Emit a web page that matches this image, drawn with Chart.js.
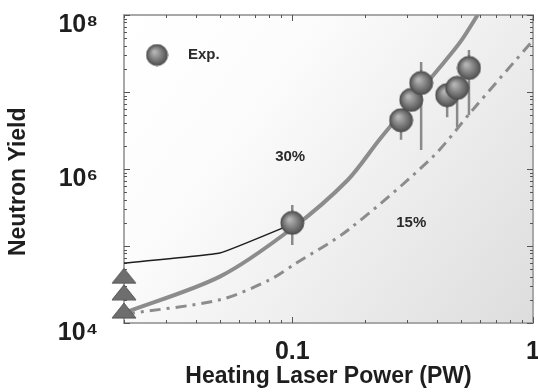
<!DOCTYPE html>
<html><head><meta charset="utf-8">
<script src="https://cdn.jsdelivr.net/npm/chart.js@4.4.1/dist/chart.umd.min.js"></script>
<style>html,body{margin:0;padding:0;background:#fff;}#wrap{width:538px;height:392px;}</style>
</head><body><div id="wrap"><canvas id="c" width="538" height="392"></canvas></div>
<script>
// ---- data ----
const expPower   = [0.1, 0.283, 0.312, 0.343, 0.44, 0.484, 0.542];
const expYield   = [2.0e5, 4.3e6, 7.9e6, 1.31e7, 9.1e6, 1.13e7, 2.05e7];
const expErrLow  = [1.03e5, 2.4e6, 7.9e6, 1.77e6, 4.7e6, 3.5e6, 5.0e6];
const expErrHigh = [3.4e5, 5.5e6, 7.9e6, 2.45e7, 1.2e7, 1.4e7, 3.5e7];
const triPower   = [0.02, 0.02, 0.02];
const triYield   = [4.1e4, 2.5e4, 1.45e4];
const thinPower  = [0.02, 0.05, 0.1];
const thinYield  = [6.0e4, 8.1e4, 1.93e5];
const p30Power   = [0.02, 0.05, 0.1, 0.17, 0.23, 0.3, 0.4, 0.5, 0.6];
const p30Yield   = [1.35e4, 4.0e4, 1.7e5, 7.2e5, 2.4e6, 6.5e6, 1.9e7, 4.5e7, 1.1e8];
const p15Power   = [0.02, 0.05, 0.08, 0.104, 0.17, 0.38, 0.56, 1.0];
const p15Yield   = [1.3e4, 2.0e4, 3.6e4, 6.0e4, 1.6e5, 1.4e6, 5.8e6, 4.7e7];
const xTickValues = [0.1, 1];
const xTickLabels = ['0.1', '1'];
const yTickValues = [1e4, 1e6, 1e8];
const yTickLabels = ['10\u2074', '10\u2076', '10\u2078'];
const xMinorTicks = [0.02,0.03,0.04,0.05,0.06,0.07,0.08,0.09,0.2,0.3,0.4,0.5,0.6,0.7,0.8,0.9];
const xMajorTicks = [0.1, 1];
const yMinorTicks = [2e4,3e4,4e4,5e4,6e4,7e4,8e4,9e4,2e5,3e5,4e5,5e5,6e5,7e5,8e5,9e5,
                     2e6,3e6,4e6,5e6,6e6,7e6,8e6,9e6,2e7,3e7,4e7,5e7,6e7,7e7,8e7,9e7];
const yMajorTicks = [1e4, 1e5, 1e6, 1e7, 1e8];
const noteTexts = ['30%', '15%'];
const notePower = [0.098, 0.312];
const noteYield = [1.43e6, 1.99e5];
const legendLabel = 'Exp.';

const FONT = "'Liberation Sans', Arial, Helvetica, sans-serif";

function sphere(d) {
  const c = document.createElement('canvas');
  c.width = c.height = d + 2;
  const g = c.getContext('2d');
  const r = d / 2, cx = r + 1;
  const grad = g.createRadialGradient(cx - r * 0.25, cx - r * 0.3, r * 0.1, cx, cx, r);
  grad.addColorStop(0, '#b4b4b4');
  grad.addColorStop(1, '#505050');
  g.beginPath(); g.arc(cx, cx, r, 0, Math.PI * 2);
  g.fillStyle = grad; g.fill();
  g.lineWidth = 1; g.strokeStyle = '#4a4a4a'; g.stroke();
  return c;
}
function triangle(w, h) {
  const c = document.createElement('canvas');
  c.width = w + 2; c.height = h + 2;
  const g = c.getContext('2d');
  g.beginPath(); g.moveTo(1 + w / 2, 1); g.lineTo(1 + w, 1 + h); g.lineTo(1, 1 + h); g.closePath();
  g.fillStyle = '#6e6e6e'; g.fill();
  g.lineWidth = 1; g.strokeStyle = '#555'; g.stroke();
  return c;
}
const ballImg = sphere(23);
const legendBall = sphere(21);
const triImg = triangle(24, 15);

const zip = (xs, ys) => xs.map((x, i) => ({ x: x, y: ys[i] }));

const bgPlugin = {
  id: 'bg',
  beforeDatasetsDraw(chart) {
    const { ctx, chartArea: a, scales } = chart;
    ctx.save();
    const g = ctx.createLinearGradient(a.left, a.top, a.right, a.bottom);
    g.addColorStop(0, '#ffffff');
    g.addColorStop(0.3, '#fcfcfc');
    g.addColorStop(1, '#dddddd');
    ctx.fillStyle = g;
    ctx.fillRect(a.left, a.top, a.right - a.left, a.bottom - a.top);
    // frame
    ctx.strokeStyle = '#a8a8a8';
    ctx.lineWidth = 2;
    ctx.strokeRect(a.left, a.top, a.right - a.left, a.bottom - a.top);
    // inward ticks
    ctx.strokeStyle = '#555';
    ctx.lineWidth = 1;
    ctx.beginPath();
    const xs = scales.x, ys = scales.y;
    const addX = (v, len) => {
      const px = Math.round(xs.getPixelForValue(v)) + 0.5;
      ctx.moveTo(px, a.bottom); ctx.lineTo(px, a.bottom - len);
      ctx.moveTo(px, a.top); ctx.lineTo(px, a.top + len);
    };
    const addY = (v, len) => {
      const py = Math.round(ys.getPixelForValue(v)) + 0.5;
      ctx.moveTo(a.left, py); ctx.lineTo(a.left + len, py);
      ctx.moveTo(a.right, py); ctx.lineTo(a.right - len, py);
    };
    xMinorTicks.forEach(v => addX(v, 3));
    xMajorTicks.forEach(v => addX(v, 6));
    yMinorTicks.forEach(v => addY(v, 3));
    yMajorTicks.forEach(v => addY(v, 6));
    ctx.stroke();
    // error bars
    ctx.strokeStyle = '#8a8a8a';
    ctx.lineWidth = 2.5;
    ctx.beginPath();
    expPower.forEach((p, i) => {
      const px = xs.getPixelForValue(p);
      ctx.moveTo(px, ys.getPixelForValue(expErrLow[i]));
      ctx.lineTo(px, ys.getPixelForValue(expErrHigh[i]));
    });
    ctx.stroke();
    ctx.restore();
  },
  afterDatasetsDraw(chart) {
    const { ctx, chartArea: a, scales } = chart;
    ctx.save();
    ctx.fillStyle = '#2a2a2a';
    ctx.font = 'bold 15px ' + FONT;
    ctx.textAlign = 'center';
    ctx.textBaseline = 'middle';
    noteTexts.forEach((t, i) => {
      ctx.fillText(t, scales.x.getPixelForValue(notePower[i]), scales.y.getPixelForValue(noteYield[i]));
    });
    // legend
    const lx = a.left + 33, ly = a.top + 40;
    ctx.drawImage(legendBall, lx - legendBall.width / 2, ly - legendBall.height / 2);
    ctx.textAlign = 'left';
    ctx.fillText(legendLabel, a.left + 64, ly);
    ctx.restore();
  }
};

new Chart(document.getElementById('c'), {
  type: 'scatter',
  data: {
    datasets: [
      { label: legendLabel, data: zip(expPower, expYield), pointStyle: ballImg, showLine: false, order: 0 },
      { label: 'triangles', data: zip(triPower, triYield), pointStyle: triImg, showLine: false, clip: false, order: 1 },
      { label: 'thin', data: zip(thinPower, thinYield), showLine: true, borderColor: '#1e1e1e', borderWidth: 1.5,
        pointRadius: 0, tension: 0.1, order: 4 },
      { label: '30%', data: zip(p30Power, p30Yield), showLine: true, borderColor: '#8c8c8c', borderWidth: 4,
        pointRadius: 0, tension: 0.3, order: 3 },
      { label: '15%', data: zip(p15Power, p15Yield), showLine: true, borderColor: '#8c8c8c', borderWidth: 3,
        borderDash: [11, 6, 3, 6], pointRadius: 0, tension: 0.3, order: 2 }
    ]
  },
  options: {
    responsive: false,
    animation: false,
    devicePixelRatio: 1,
    layout: { padding: { top: 15, right: 4, left: 0, bottom: 0 } },
    plugins: { legend: { display: false }, tooltip: { enabled: false } },
    scales: {
      x: {
        type: 'logarithmic', min: 0.02, max: 1, position: 'bottom',
        afterBuildTicks: s => { s.ticks = xTickValues.map(v => ({ value: v })); },
        afterFit: s => { s.height = 69; s.paddingLeft = 0; s.paddingRight = 0; },
        ticks: { autoSkip: false, maxRotation: 0, padding: 14, color: '#1e1e1e',
                 font: { family: FONT, size: 25, weight: 'bold' },
                 callback: (v, i) => xTickLabels[i] },
        grid: { display: false, drawTicks: false },
        border: { display: false },
        title: { display: true, text: 'Heating Laser Power (PW)', color: '#1e1e1e', padding: { top: 0, bottom: 2 },
                 font: { family: FONT, size: 23, weight: 'bold' } }
      },
      y: {
        type: 'logarithmic', min: 1e4, max: 1e8, position: 'left',
        afterBuildTicks: s => { s.ticks = yTickValues.map(v => ({ value: v })); },
        afterFit: s => { s.width = 124; s.paddingTop = 0; s.paddingBottom = 0; },
        ticks: { autoSkip: false, padding: 26, labelOffset: 10, color: '#1e1e1e',
                 font: { family: FONT, size: 25, weight: 'bold' },
                 callback: (v, i) => yTickLabels[i] },
        grid: { display: false, drawTicks: false },
        border: { display: false },
        title: { display: true, text: 'Neutron Yield    ', color: '#1e1e1e', padding: { top: 5, bottom: 0 },
                 font: { family: FONT, size: 23, weight: 'bold' } }
      }
    }
  },
  plugins: [bgPlugin]
});
</script>
</body></html>
